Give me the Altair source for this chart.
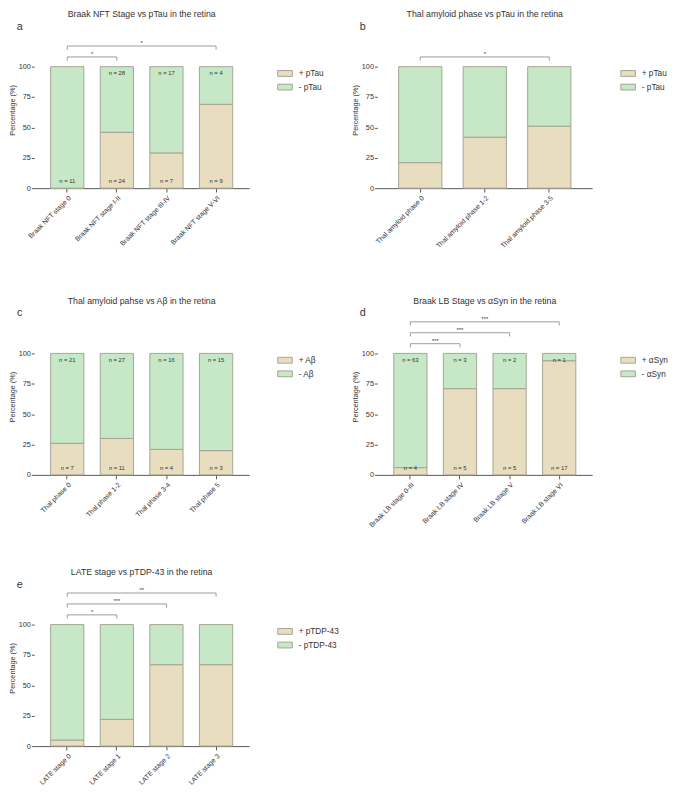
import altair as alt
import pandas as pd

FONT = "Liberation Sans"
POS_FILL = "#e9ddbf"
NEG_FILL = "#c6e8c6"
BAR_STROKE = "#a3a394"
TEXT = "#333333"
AXIS = "#555555"
BRACKET = "#9a9a9a"

W = 221
H = 161
YMAX = 128.8
PAD = 0.33

# ---------------- data ----------------
a_title = "Braak NFT Stage vs pTau in the retina"
a_stages = ["Braak NFT stage 0", "Braak NFT stage I-II", "Braak NFT stage III-IV", "Braak NFT stage V-VI"]
a_series = ["+ pTau", "- pTau"]
a_pos = [0, 46, 29, 69]
a_neg = [100, 54, 71, 31]
a_n_top = [None, 28, 17, 4]
a_n_bottom = [11, 24, 7, 9]
a_br_left = ["Braak NFT stage 0", "Braak NFT stage 0"]
a_br_right = ["Braak NFT stage I-II", "Braak NFT stage V-VI"]
a_br_level = [1, 2]
a_br_label = ["*", "*"]

b_title = "Thal amyloid phase vs pTau in the retina"
b_stages = ["Thal amyloid phase 0", "Thal amyloid phase 1-2", "Thal amyloid phase 3-5"]
b_series = ["+ pTau", "- pTau"]
b_pos = [21, 42, 51]
b_neg = [79, 58, 49]
b_br_left = ["Thal amyloid phase 0"]
b_br_right = ["Thal amyloid phase 3-5"]
b_br_level = [1]
b_br_label = ["*"]

c_title = "Thal amyloid pahse vs Aβ in the retina"
c_stages = ["Thal phase 0", "Thal phase 1-2", "Thal phase 3-4", "Thal phase 5"]
c_series = ["+ Aβ", "- Aβ"]
c_pos = [26, 30, 21, 20]
c_neg = [74, 70, 79, 80]
c_n_top = [21, 27, 16, 15]
c_n_bottom = [7, 11, 4, 3]

d_title = "Braak LB Stage vs αSyn in the retina"
d_stages = ["Braak LB stage 0-III", "Braak LB stage IV", "Braak LB stage V", "Braak LB stage VI"]
d_series = ["+ αSyn", "- αSyn"]
d_pos = [6, 71, 71, 94]
d_neg = [94, 29, 29, 6]
d_n_top = [63, 3, 2, 1]
d_n_bottom = [4, 5, 5, 17]
d_br_left = ["Braak LB stage 0-III", "Braak LB stage 0-III", "Braak LB stage 0-III"]
d_br_right = ["Braak LB stage IV", "Braak LB stage V", "Braak LB stage VI"]
d_br_level = [1, 2, 3]
d_br_label = ["***", "***", "***"]

e_title = "LATE stage vs pTDP-43 in the retina"
e_stages = ["LATE stage 0", "LATE stage 1", "LATE stage 2", "LATE stage 3"]
e_series = ["+ pTDP-43", "- pTDP-43"]
e_pos = [5, 22, 67, 67]
e_neg = [95, 78, 33, 33]
e_br_left = ["LATE stage 0", "LATE stage 0", "LATE stage 0"]
e_br_right = ["LATE stage 1", "LATE stage 2", "LATE stage 3"]
e_br_level = [1, 2, 3]
e_br_label = ["*", "***", "**"]


def panel(title, letter, stages, series, pos, neg, n_top=None, n_bottom=None, brackets=None):
    n = len(stages)
    rows = []
    for i, s in enumerate(stages):
        rows.append({"stage": s, "status": series[0], "pct": pos[i], "k": 0})
        rows.append({"stage": s, "status": series[1], "pct": neg[i], "k": 1})
    df = pd.DataFrame(rows)
    xscale = alt.Scale(paddingInner=PAD, paddingOuter=PAD)
    yscale = alt.Scale(domain=[0, YMAX], nice=False, zero=True)
    x_axis = alt.Axis(labelAngle=-45, labelFontSize=7, labelColor=TEXT, labelPadding=2,
                      tickSize=4, tickColor=AXIS, domainColor=AXIS, labelLimit=300,
                      labelOverlap=False)
    x = alt.X("stage:N", sort=stages, scale=xscale, title=None, axis=x_axis)
    y = alt.Y("pct:Q", stack="zero", scale=yscale, title="Percentage (%)",
              axis=alt.Axis(values=[0, 25, 50, 75, 100], domain=False, grid=False, tickSize=3,
                            tickColor=AXIS, labelFontSize=7.5, labelColor=TEXT, labelPadding=1,
                            titleFontSize=7.5, titleFontWeight="normal", titleColor=TEXT,
                            titlePadding=2))
    color = alt.Color("status:N", sort=series,
                      scale=alt.Scale(domain=series, range=[POS_FILL, NEG_FILL]),
                      legend=alt.Legend(title=None, orient="none", legendX=W + 29, legendY=35,
                                        labelFontSize=8.5, labelColor=TEXT,
                                        symbolType="M-1,-0.4H1V0.4H-1Z", symbolSize=225,
                                        symbolStrokeColor=BAR_STROKE, symbolStrokeWidth=1,
                                        symbolOpacity=1, rowPadding=1, labelOffset=6))
    bars = alt.Chart(df).mark_bar(stroke=BAR_STROKE, strokeWidth=1).encode(
        x=x, y=y, color=color, order=alt.Order("k:Q"))
    layers = [bars]
    xs = alt.X("stage:N", sort=stages, scale=xscale, title=None, axis=x_axis)
    if n_top is not None:
        tdf = pd.DataFrame({"stage": [s for s, v in zip(stages, n_top) if v is not None],
                            "lab": [f"n = {v}" for v in n_top if v is not None]})
        layers.append(alt.Chart(tdf).mark_text(fontSize=6, color=TEXT, baseline="middle").encode(
            x=xs, y=alt.datum(94.4), text="lab:N"))
    if n_bottom is not None:
        bdf = pd.DataFrame({"stage": [s for s, v in zip(stages, n_bottom) if v is not None],
                            "lab": [f"n = {v}" for v in n_bottom if v is not None]})
        layers.append(alt.Chart(bdf).mark_text(fontSize=6, color=TEXT, baseline="middle").encode(
            x=xs, y=alt.datum(5.6), text="lab:N"))
    letter_df = pd.DataFrame({"t": [letter]})
    layers.append(alt.Chart(letter_df).mark_text(fontSize=11, color=TEXT, align="center",
                                                 baseline="middle").encode(
        x=alt.value(-15), y=alt.value(-5), text="t:N"))
    inner = alt.layer(*layers)

    parts = [inner]
    if brackets is not None:
        lefts, rights, levels, labels = brackets
        bdf = pd.DataFrame({"l": [stages.index(s) for s in lefts],
                            "r": [stages.index(s) for s in rights],
                            "level": levels, "label": labels})
        bx = alt.Scale(domain=[-(0.5 + PAD / 2), n - 0.5 + PAD / 2], nice=False, zero=False)
        by = alt.Scale(domain=[0, YMAX], nice=False, zero=True)
        base = alt.Chart(bdf).transform_calculate(
            yb="108 + (datum.level - 1) * 9",
            yt="105 + (datum.level - 1) * 9",
            mid="(datum.l + datum.r) / 2")
        hline = base.mark_rule(color=BRACKET, strokeWidth=1).encode(
            x=alt.X("l:Q", scale=bx, axis=None), x2="r:Q",
            y=alt.Y("yb:Q", scale=by, axis=None))
        lt = base.mark_rule(color=BRACKET, strokeWidth=1).encode(
            x=alt.X("l:Q", scale=bx, axis=None),
            y=alt.Y("yb:Q", scale=by, axis=None), y2="yt:Q")
        rt = base.mark_rule(color=BRACKET, strokeWidth=1).encode(
            x=alt.X("r:Q", scale=bx, axis=None),
            y=alt.Y("yb:Q", scale=by, axis=None), y2="yt:Q")
        st = base.mark_text(fontSize=6, color=TEXT, baseline="alphabetic", dy=-1).encode(
            x=alt.X("mid:Q", scale=bx, axis=None),
            y=alt.Y("yb:Q", scale=by, axis=None), text="label:N")
        parts.append(alt.layer(hline, lt, rt, st))
    out = alt.layer(*parts)
    if len(parts) > 1:
        out = out.resolve_scale(x="independent", y="independent")
    return out.properties(
        width=W, height=H,
        title=alt.TitleParams(text=title, fontSize=9, fontWeight="normal", color=TEXT,
                              anchor="middle", frame="group", offset=2))


pa = panel(a_title, "a", a_stages, a_series, a_pos, a_neg, a_n_top, a_n_bottom,
           (a_br_left, a_br_right, a_br_level, a_br_label))
pb = panel(b_title, "b", b_stages, b_series, b_pos, b_neg,
           brackets=(b_br_left, b_br_right, b_br_level, b_br_label))
pc = panel(c_title, "c", c_stages, c_series, c_pos, c_neg, c_n_top, c_n_bottom)
pd_ = panel(d_title, "d", d_stages, d_series, d_pos, d_neg, d_n_top, d_n_bottom,
            (d_br_left, d_br_right, d_br_level, d_br_label))
pe = panel(e_title, "e", e_stages, e_series, e_pos, e_neg,
           brackets=(e_br_left, e_br_right, e_br_level, e_br_label))

grid = alt.concat(pa, pb, pc, pd_, columns=2,
                  spacing={"row": 49, "column": 28}).resolve_scale(color="independent")
chart = alt.vconcat(grid, pe, spacing=41).resolve_scale(color="independent").properties(
    padding={"top": -9, "left": 0, "right": 0, "bottom": 0}).configure(font=FONT).configure_view(
    stroke=None).configure_axis(labelFont=FONT, titleFont=FONT).configure_legend(
    labelFont=FONT).configure_title(font=FONT).configure_text(font=FONT)

chart.save("out.html", embed_options={"renderer": "svg", "actions": False})
